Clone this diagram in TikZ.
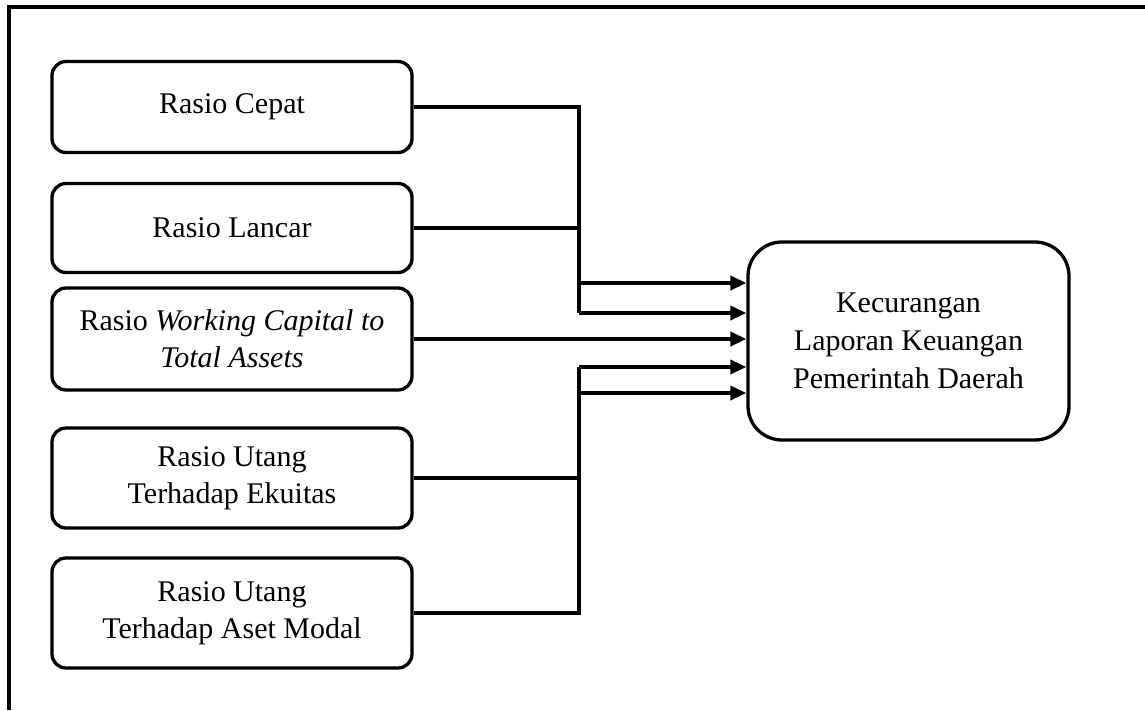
\documentclass[tikz,border=0pt]{standalone}
\usepackage{fontspec}
\setmainfont{Liberation Serif}
\usetikzlibrary{arrows.meta,calc}
\begin{document}
\begin{tikzpicture}[x=1pt,y=-1pt,
  src/.style={draw=black,line width=3.3pt,rounded corners=14pt,minimum width=360pt,align=center,inner sep=0pt,font=\fontsize{30}{37}\selectfont},
  tgt/.style={draw=black,line width=3.3pt,rounded corners=34pt,minimum width=321pt,minimum height=198pt,align=center,inner sep=0pt,font=\fontsize{30}{38}\selectfont},
  conn/.style={line width=3.6pt},
  arr/.style={line width=3.6pt,-{Triangle[length=16pt,width=14pt]}}]
\useasboundingbox (0,0) rectangle (1145,710);
\fill[white] (0,0) rectangle (1145,710);
% frame (top and left only visible)
\draw[line width=3.3pt] (9,710) -- (9,7) -- (1145,7);
% source boxes
\node[src,minimum height=91pt]  (b1) at (232,107)   {Rasio Cepat};
\node[src,minimum height=89pt]  (b2) at (232,228)   {Rasio Lancar};
\node[src,minimum height=102pt] (b3) at (232,339)   {Rasio \textit{Working Capital to}\\\textit{Total Assets}};
\node[src,minimum height=100pt] (b4) at (232,478)   {Rasio Utang\\Terhadap Ekuitas};
\node[src,minimum height=110pt] (b5) at (232,613)   {Rasio Utang\\Terhadap Aset Modal};
% target
\node[tgt] (t) at (908.5,341) {Kecurangan\\Laporan Keuangan\\Pemerintah Daerah};
% junction coordinates
\coordinate (jt1) at (579,283);
\coordinate (jt2) at (579,313);
\coordinate (jb1) at (579,367);
\coordinate (jb2) at (579,393);
% upper group
\draw[conn] (b1.east) -| (jt2);
\draw[conn] (b2.east) -- (b2.east -| jt1);
\draw[arr] (jt1) -- (jt1 -| t.west);
\draw[arr] (jt2) -- (jt2 -| t.west);
% middle
\draw[arr] (b3.east) -- (b3.east -| t.west);
% lower group
\draw[conn] (b5.east) -| (jb1);
\draw[conn] (b4.east) -- (b4.east -| jb1);
\draw[arr] (jb1) -- (jb1 -| t.west);
\draw[arr] (jb2) -- (jb2 -| t.west);
\end{tikzpicture}
\end{document}
